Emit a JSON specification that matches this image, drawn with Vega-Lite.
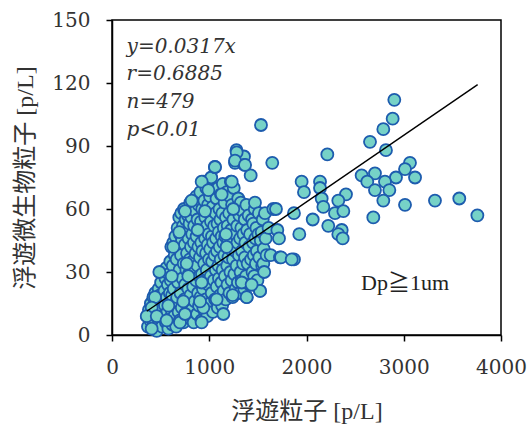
{
  "$schema": "https://vega.github.io/schema/vega-lite/v6.json",
  "width": 389,
  "height": 315,
  "autosize": "none",
  "padding": {"left": 112, "top": 20, "right": 29, "bottom": 91},
  "background": "white",
  "config": {
    "view": {"stroke": "black", "strokeWidth": 1.5},
    "axis": {
      "grid": false,
      "domainColor": "black",
      "domainWidth": 1.5,
      "tickColor": "black",
      "tickWidth": 1.5,
      "tickSize": 6,
      "labelFont": "DejaVu Serif",
      "labelFontSize": 20,
      "labelColor": "#333",
      "titleFont": "Liberation Serif, Noto Sans CJK JP",
      "titleFontSize": 24,
      "titleFontWeight": "normal",
      "titleColor": "#333"
    }
  },
  "datasets": {
    "pts": [
      {"x":360,"y":9},{"x":370,"y":4},{"x":380,"y":12},{"x":395,"y":7},{"x":400,"y":15},{"x":410,"y":3},{"x":415,"y":10},{"x":425,"y":18},{"x":430,"y":6},{"x":440,"y":13},{"x":445,"y":20},{"x":455,"y":9},{"x":460,"y":2},{"x":465,"y":16},{"x":470,"y":11},{"x":480,"y":22},{"x":485,"y":5},{"x":490,"y":14},{"x":495,"y":19},{"x":500,"y":8},
      {"x":505,"y":25},{"x":510,"y":12},{"x":515,"y":4},{"x":520,"y":17},{"x":525,"y":30},{"x":530,"y":9},{"x":540,"y":21},{"x":545,"y":14},{"x":550,"y":27},{"x":555,"y":6},{"x":560,"y":32},{"x":565,"y":18},{"x":570,"y":11},{"x":575,"y":24},{"x":580,"y":3},{"x":585,"y":29},{"x":590,"y":15},{"x":595,"y":20},{"x":598,"y":8},{"x":600,"y":35},
      {"x":605,"y":26},{"x":610,"y":42},{"x":612,"y":12},{"x":618,"y":19},{"x":620,"y":5},{"x":625,"y":33},{"x":630,"y":44},{"x":635,"y":22},{"x":640,"y":9},{"x":645,"y":38},{"x":650,"y":15},{"x":652,"y":47},{"x":658,"y":28},{"x":660,"y":4},{"x":665,"y":36},{"x":670,"y":18},{"x":675,"y":51},{"x":680,"y":25},{"x":685,"y":11},{"x":690,"y":41},{"x":692,"y":56},{"x":695,"y":31},{"x":698,"y":7},{"x":700,"y":48},
      {"x":705,"y":20},{"x":710,"y":38},{"x":712,"y":58},{"x":718,"y":13},{"x":720,"y":45},{"x":725,"y":27},{"x":730,"y":52},{"x":735,"y":6},{"x":738,"y":34},{"x":740,"y":60},{"x":745,"y":17},{"x":750,"y":43},{"x":752,"y":24},{"x":758,"y":55},{"x":760,"y":10},{"x":765,"y":31},{"x":770,"y":49},{"x":772,"y":39},{"x":778,"y":15},{"x":780,"y":57},{"x":785,"y":22},{"x":788,"y":46},{"x":790,"y":29},{"x":795,"y":8},{"x":798,"y":53},{"x":800,"y":36},
      {"x":805,"y":63},{"x":808,"y":19},{"x":812,"y":42},{"x":815,"y":28},{"x":818,"y":56},{"x":820,"y":12},{"x":825,"y":48},{"x":828,"y":35},{"x":832,"y":61},{"x":835,"y":23},{"x":840,"y":6},{"x":842,"y":44},{"x":845,"y":52},{"x":850,"y":30},{"x":852,"y":16},{"x":858,"y":59},{"x":860,"y":39},{"x":865,"y":26},{"x":868,"y":66},{"x":870,"y":47},{"x":875,"y":10},{"x":878,"y":33},{"x":880,"y":55},{"x":885,"y":20},{"x":888,"y":42},{"x":890,"y":62},{"x":895,"y":14},{"x":898,"y":50},{"x":900,"y":28},
      {"x":905,"y":37},{"x":908,"y":68},{"x":910,"y":18},{"x":915,"y":54},{"x":918,"y":44},{"x":920,"y":7},{"x":925,"y":29},{"x":928,"y":60},{"x":930,"y":40},{"x":935,"y":22},{"x":938,"y":73},{"x":940,"y":50},{"x":945,"y":12},{"x":948,"y":34},{"x":950,"y":64},{"x":955,"y":26},{"x":958,"y":46},{"x":960,"y":56},{"x":965,"y":17},{"x":968,"y":39},{"x":970,"y":70},{"x":975,"y":31},{"x":978,"y":52},{"x":980,"y":9},{"x":985,"y":43},{"x":988,"y":62},{"x":990,"y":24},{"x":995,"y":48},{"x":998,"y":36},{"x":1000,"y":58},
      {"x":1005,"y":15},{"x":1008,"y":66},{"x":1010,"y":41},{"x":1015,"y":28},{"x":1018,"y":54},{"x":1020,"y":75},{"x":1025,"y":20},{"x":1028,"y":47},{"x":1030,"y":35},{"x":1035,"y":61},{"x":1038,"y":11},{"x":1040,"y":44},{"x":1045,"y":69},{"x":1048,"y":26},{"x":1050,"y":52},{"x":1055,"y":38},{"x":1058,"y":80},{"x":1060,"y":17},{"x":1065,"y":58},{"x":1068,"y":31},{"x":1070,"y":46},{"x":1075,"y":65},{"x":1078,"y":23},{"x":1080,"y":40},{"x":1085,"y":53},{"x":1088,"y":13},{"x":1090,"y":70},{"x":1095,"y":33},{"x":1098,"y":49},{"x":1100,"y":27},
      {"x":1105,"y":60},{"x":1108,"y":42},{"x":1112,"y":19},{"x":1115,"y":55},{"x":1118,"y":36},{"x":1120,"y":67},{"x":1125,"y":25},{"x":1128,"y":47},{"x":1132,"y":14},{"x":1135,"y":58},{"x":1138,"y":31},{"x":1140,"y":72},{"x":1145,"y":44},{"x":1148,"y":21},{"x":1150,"y":51},{"x":1155,"y":38},{"x":1158,"y":63},{"x":1162,"y":28},{"x":1165,"y":47},{"x":1170,"y":17},{"x":1172,"y":56},{"x":1178,"y":42},{"x":1180,"y":68},{"x":1185,"y":33},{"x":1188,"y":24},{"x":1190,"y":52},{"x":1195,"y":45},{"x":1198,"y":37},
      {"x":1205,"y":58},{"x":1208,"y":20},{"x":1212,"y":66},{"x":1215,"y":41},{"x":1218,"y":30},{"x":1222,"y":73},{"x":1225,"y":50},{"x":1230,"y":26},{"x":1235,"y":62},{"x":1238,"y":45},{"x":1240,"y":18},{"x":1245,"y":36},{"x":1248,"y":55},{"x":1252,"y":70},{"x":1258,"y":29},{"x":1262,"y":48},{"x":1265,"y":82},{"x":1268,"y":40},{"x":1272,"y":22},{"x":1275,"y":60},{"x":1280,"y":88},{"x":1282,"y":33},{"x":1288,"y":52},{"x":1290,"y":44},{"x":1295,"y":25},{"x":1298,"y":65},
      {"x":1305,"y":38},{"x":1310,"y":57},{"x":1315,"y":20},{"x":1318,"y":46},{"x":1322,"y":30},{"x":1325,"y":63},{"x":1330,"y":51},{"x":1334,"y":26},{"x":1338,"y":40},{"x":1342,"y":59},{"x":1348,"y":34},{"x":1352,"y":48},{"x":1357,"y":85},{"x":1360,"y":22},{"x":1362,"y":81},{"x":1365,"y":55},{"x":1368,"y":37},{"x":1372,"y":44},{"x":1378,"y":28},{"x":1382,"y":62},{"x":1385,"y":18},{"x":1390,"y":50},{"x":1395,"y":34},
      {"x":1405,"y":57},{"x":1410,"y":42},{"x":1415,"y":24},{"x":1420,"y":48},{"x":1426,"y":76},{"x":1430,"y":36},{"x":1436,"y":24},{"x":1440,"y":55},{"x":1445,"y":30},{"x":1450,"y":44},{"x":1453,"y":53},{"x":1458,"y":38},{"x":1462,"y":28},{"x":1468,"y":60},{"x":1470,"y":63},{"x":1475,"y":46},{"x":1480,"y":34},{"x":1485,"y":51},{"x":1490,"y":40},{"x":1495,"y":26},
      {"x":1505,"y":48},{"x":1510,"y":58},{"x":1515,"y":37},{"x":1522,"y":21},{"x":1530,"y":45},{"x":1532,"y":100},{"x":1539,"y":49},{"x":1545,"y":33},{"x":1550,"y":55},{"x":1556,"y":34},{"x":1560,"y":41},{"x":1565,"y":30},{"x":1573,"y":58},{"x":1580,"y":46},{"x":1590,"y":38},
      {"x":1610,"y":51},{"x":1632,"y":38},{"x":1648,"y":82},{"x":1659,"y":60},{"x":1686,"y":60},{"x":1700,"y":50},{"x":1717,"y":46},{"x":1727,"y":37},{"x":1738,"y":37},
      {"x":1282,"y":87},{"x":1265,"y":83},{"x":1368,"y":81},{"x":1059,"y":80},{"x":922,"y":73},{"x":1231,"y":73},{"x":991,"y":69},{"x":1128,"y":67},{"x":819,"y":64},{"x":751,"y":59},{"x":956,"y":59},{"x":1247,"y":60},{"x":692,"y":49},{"x":881,"y":50},{"x":630,"y":42},{"x":768,"y":34},{"x":487,"y":30},{"x":614,"y":28},{"x":785,"y":28},{"x":922,"y":25},{"x":1179,"y":42},{"x":1172,"y":48},{"x":442,"y":18},{"x":408,"y":13},{"x":357,"y":9},{"x":460,"y":9},{"x":408,"y":3},{"x":562,"y":7},{"x":699,"y":6},{"x":751,"y":10},{"x":939,"y":13},{"x":922,"y":6},{"x":1145,"y":10},{"x":1076,"y":17},{"x":905,"y":16},{"x":733,"y":16},{"x":579,"y":14},{"x":1241,"y":19},{"x":1385,"y":18},{"x":1522,"y":21},{"x":1334,"y":25},{"x":1436,"y":24},
      {"x":2903,"y":112},{"x":2886,"y":103},{"x":2790,"y":98},{"x":2653,"y":92},{"x":2817,"y":88},{"x":2214,"y":86},{"x":3064,"y":82},{"x":3013,"y":79},{"x":3116,"y":75},{"x":2920,"y":75},{"x":2567,"y":76},{"x":2704,"y":77},{"x":2625,"y":73},{"x":2807,"y":73},{"x":2704,"y":69},{"x":2852,"y":69},{"x":2790,"y":64},{"x":3013,"y":62},{"x":3321,"y":64},{"x":3571,"y":65},{"x":3757,"y":57},{"x":2687,"y":56},
      {"x":1950,"y":73},{"x":1974,"y":68},{"x":2139,"y":73},{"x":2139,"y":70},{"x":2156,"y":65},{"x":2406,"y":67},{"x":2327,"y":64},{"x":2173,"y":61},{"x":2293,"y":58},{"x":2379,"y":59},{"x":1871,"y":58},{"x":2064,"y":55},{"x":2224,"y":52},{"x":2362,"y":50},{"x":2327,"y":48},{"x":2372,"y":46},{"x":1926,"y":48},{"x":1871,"y":36},{"x":1848,"y":36}
    ],
    "fit": [{"x": 357, "y": 11.3}, {"x": 3760, "y": 119.2}],
    "notes": [
      {"label": "y=0.0317x", "x": 150, "y": 137.3},
      {"label": "r=0.6885", "x": 150, "y": 124.3},
      {"label": "n=479", "x": 150, "y": 111.1},
      {"label": "p<0.01", "x": 150, "y": 97.6}
    ],
    "dp": [{"label": "Dp≧1um", "x": 3013, "y": 24.8}]
  },
  "layer": [
    {
      "data": {"name": "pts"},
      "mark": {"type": "point", "shape": "circle", "filled": true, "size": 145, "fill": "#76d2c7", "fillOpacity": 1, "stroke": "#1d5cae", "strokeWidth": 1.8, "opacity": 1},
      "encoding": {
        "x": {"field": "x", "type": "quantitative", "scale": {"domain": [0, 4000], "nice": false}, "axis": {"values": [0, 1000, 2000, 3000, 4000], "format": "d", "title": "浮遊粒子 [p/L]", "labelPadding": 16, "titlePadding": 22, "labelFlush": false}},
        "y": {"field": "y", "type": "quantitative", "scale": {"domain": [0, 150], "nice": false}, "axis": {"values": [0, 30, 60, 90, 120, 150], "format": "d", "title": "浮遊微生物粒子 [p/L]", "labelPadding": 16, "titlePadding": 14}}
      }
    },
    {
      "data": {"name": "fit"},
      "mark": {"type": "line", "color": "black", "strokeWidth": 1.4},
      "encoding": {
        "x": {"field": "x", "type": "quantitative"},
        "y": {"field": "y", "type": "quantitative"}
      }
    },
    {
      "data": {"name": "notes"},
      "mark": {"type": "text", "align": "left", "baseline": "middle", "font": "DejaVu Serif", "fontStyle": "italic", "fontSize": 20, "color": "#333"},
      "encoding": {
        "x": {"field": "x", "type": "quantitative"},
        "y": {"field": "y", "type": "quantitative"},
        "text": {"field": "label"}
      }
    },
    {
      "data": {"name": "dp"},
      "mark": {"type": "text", "align": "center", "baseline": "middle", "font": "Liberation Serif, Noto Sans CJK JP", "fontSize": 22, "color": "#222"},
      "encoding": {
        "x": {"field": "x", "type": "quantitative"},
        "y": {"field": "y", "type": "quantitative"},
        "text": {"field": "label"}
      }
    }
  ]
}
